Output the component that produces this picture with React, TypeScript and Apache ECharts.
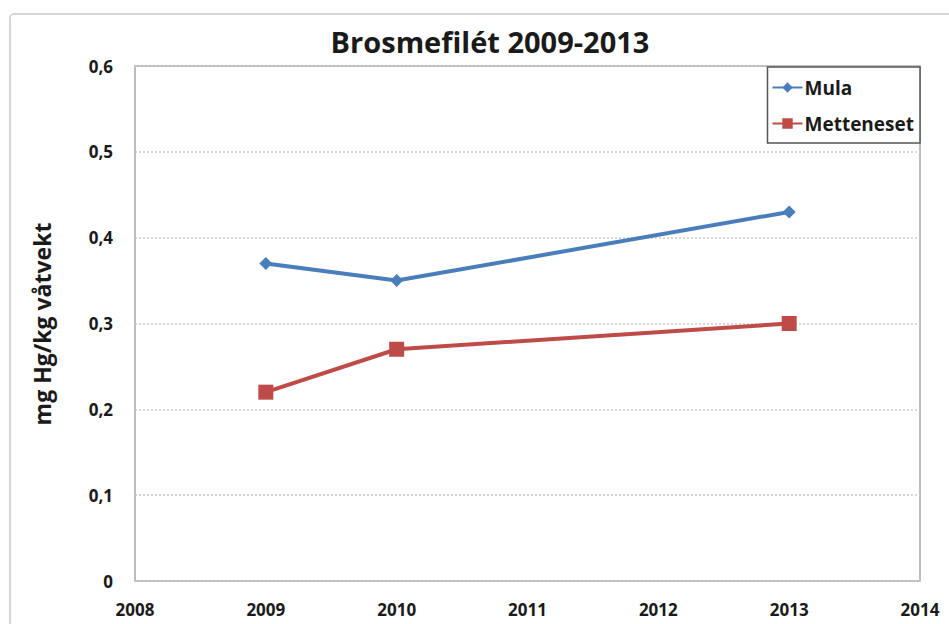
import React, { useEffect, useRef } from "react";
import * as echarts from "echarts";

const years = [2009, 2010, 2013];
const mula = [0.37, 0.35, 0.43];
const metteneset = [0.22, 0.27, 0.3];
const seriesNames = ["Mula", "Metteneset"];
const titleText = "Brosmefilét 2009-2013";
const yAxisName = "mg Hg/kg våtvekt";

const FONT = '"Liberation Sans Narrow", "Open Sans", sans-serif';

export default function App() {
  const ref = useRef<HTMLDivElement>(null);
  useEffect(() => {
    document.body.style.margin = "0";
    const chart = echarts.init(ref.current!, null, { renderer: "svg" });
    const fmtY = (v: number) => (v === 0 ? "0" : v.toFixed(1).replace(".", ","));
    chart.setOption({
      animation: false,
      backgroundColor: "#ffffff",
      textStyle: { fontFamily: FONT },
      graphic: [
        {
          type: "rect",
          shape: { x: 10, y: 14, width: 1000, height: 700, r: 4 },
          style: { fill: "none", stroke: "#c8c8c8", lineWidth: 1.5 },
          z: -1,
        },
        {
          type: "text",
          x: 42,
          y: 324,
          rotation: Math.PI / 2,
          style: {
            text: yAxisName,
            fontFamily: FONT,
            fontSize: 23,
            fontWeight: "bold",
            fill: "#1a1a1a",
            align: "center",
            verticalAlign: "middle",
          },
        },
      ],
      title: {
        text: titleText,
        left: 485,
        textAlign: "center",
        top: 22,
        textStyle: { fontFamily: FONT, fontSize: 29, fontWeight: "bold", color: "#1a1a1a" },
      },
      legend: {
        data: seriesNames,
        orient: "vertical",
        right: 29,
        top: 67,
        padding: [11, 6, 10, 4],
        itemGap: 17,
        itemWidth: 30,
        itemHeight: 13,
        borderColor: "#555555",
        borderWidth: 1.5,
        backgroundColor: "#ffffff",
        textStyle: { fontFamily: FONT, fontSize: 19, fontWeight: "bold", color: "#1a1a1a", padding: [0, 0, 0, -3] },
      },
      grid: {
        left: 135,
        right: 29,
        top: 66,
        bottom: 43,
        show: true,
        borderColor: "#a8a8a8",
        borderWidth: 1.5,
        containLabel: false,
      },
      xAxis: {
        type: "value",
        min: 2008,
        max: 2014,
        interval: 1,
        axisLine: { show: false },
        axisTick: { show: false },
        splitLine: { show: false },
        axisLabel: {
          margin: 20,
          fontFamily: FONT,
          fontSize: 17,
          fontWeight: "bold",
          color: "#1a1a1a",
          formatter: (v: number) => String(v),
        },
      },
      yAxis: {
        type: "value",
        min: 0,
        max: 0.6,
        interval: 0.1,
        axisLine: { show: false },
        axisTick: { show: false },
        splitLine: {
          show: true,
          lineStyle: { color: "#c8c8c8", type: [2, 2], width: 1.5 },
        },
        axisLabel: {
          margin: 22,
          fontFamily: FONT,
          fontSize: 17,
          fontWeight: "bold",
          color: "#1a1a1a",
          formatter: fmtY,
        },
      },
      series: [
        {
          name: seriesNames[0],
          type: "line",
          data: years.map((y, i) => [y, mula[i]]),
          symbol: "diamond",
          symbolSize: 13,
          lineStyle: { color: "#4a7ebb", width: 4 },
          itemStyle: { color: "#4a7ebb" },
        },
        {
          name: seriesNames[1],
          type: "line",
          data: years.map((y, i) => [y, metteneset[i]]),
          symbol: "rect",
          symbolSize: 15,
          lineStyle: { color: "#be4b48", width: 4 },
          itemStyle: { color: "#be4b48" },
        },
      ],
    });
    return () => chart.dispose();
  }, []);
  return <div ref={ref} style={{ width: 949, height: 624 }} />;
}
